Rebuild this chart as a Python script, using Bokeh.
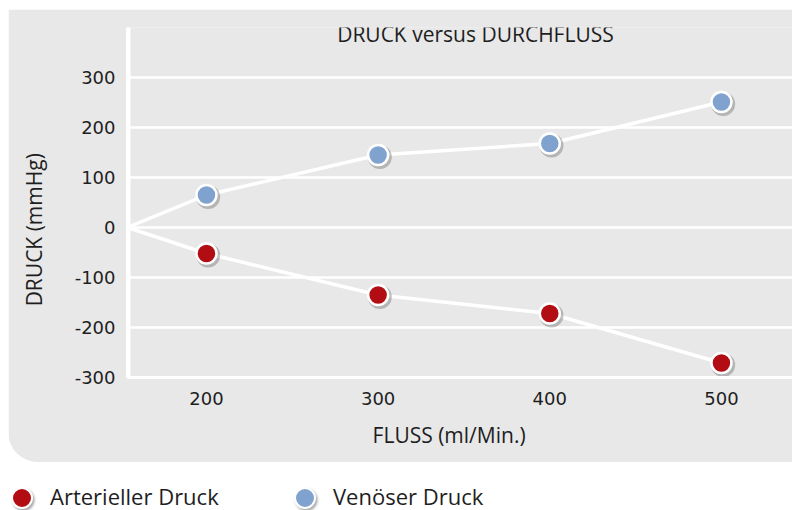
from bokeh.plotting import figure
from bokeh.models import (Range1d, FixedTicker, Label, Span, ColumnDataSource,
                          Spacer, Div)
from bokeh.layouts import column, row
from bokeh.transform import dodge
from bokeh.embed import file_html
from bokeh.resources import INLINE

# ---- data ----
FLOW = [200, 300, 400, 500]
ARTERIAL = [-52, -135, -172, -271]
VENOUS = [65, 145, 168, 251]
X_START = 154          # flow value at the y axis (origin of both lines)
Y_TICKS = [-300, -200, -100, 0, 100, 200, 300]
X_TICKS = [200, 300, 400, 500]
TITLE = "DRUCK versus DURCHFLUSS"
X_LABEL = "FLUSS (ml/Min.)"
Y_LABEL = "DRUCK (mmHg)"
SERIES = ["Arterieller Druck", "Venöser Druck"]

FONT = "Open Sans"
TICK_FONT = "DejaVu Sans"
PANEL = "#E8E8E8"
TXT = "#1E1E1E"
RED = "#B20D12"
BLUE = "#80A2CF"
COLORS = [RED, BLUE]
NBSP = "\u00a0"

p = figure(width=784, height=453, x_range=Range1d(X_START, 541.4),
           y_range=Range1d(-300, 400), output_backend="svg",
           toolbar_location=None, min_border_left=119, min_border_right=0,
           min_border_top=18, min_border_bottom=85,
           styles={"border-bottom-left-radius": "30px", "overflow": "hidden"})
p.background_fill_color = PANEL
p.border_fill_color = PANEL
p.outline_line_color = None

# axes
p.yaxis.ticker = FixedTicker(ticks=Y_TICKS)
p.xaxis.ticker = FixedTicker(ticks=X_TICKS)
p.yaxis.major_label_overrides = {t: str(t) for t in Y_TICKS}
for ax in (p.xaxis[0], p.yaxis[0]):
    ax.axis_line_color = "white"
    ax.axis_line_width = 3
    ax.major_tick_line_color = None
    ax.minor_tick_line_color = None
    ax.major_tick_out = 0
    ax.major_tick_in = 0
    ax.minor_tick_out = 0
    ax.major_label_text_font = TICK_FONT
    ax.major_label_text_font_size = "18px"
    ax.major_label_text_color = TXT
    ax.axis_label_text_font = FONT
    ax.axis_label_text_font_size = "21px"
    ax.axis_label_text_font_style = "normal"
    ax.axis_label_text_color = TXT
# trailing no-break spaces shift the centred axis titles to the reference's spot
p.xaxis.axis_label = X_LABEL + NBSP * 4
p.yaxis.axis_label = Y_LABEL + NBSP * 10
p.xaxis.major_label_standoff = 14
p.xaxis.axis_label_standoff = 13
p.yaxis.major_label_standoff = 12
p.yaxis.axis_label_standoff = 24

p.xgrid.visible = False
p.ygrid.ticker = FixedTicker(ticks=Y_TICKS)
p.ygrid.grid_line_color = "white"
p.ygrid.grid_line_width = 2.5

p.add_layout(Span(location=X_START, dimension="height", line_color="white", line_width=6))

# lines from origin
p.line([X_START] + FLOW, [0] + VENOUS, line_color="white", line_width=3.5)
p.line([X_START] + FLOW, [0] + ARTERIAL, line_color="white", line_width=3.5)

for vals, col in ((VENOUS, BLUE), (ARTERIAL, RED)):
    src = ColumnDataSource(dict(x=FLOW, y=vals))
    p.scatter(x=dodge("x", 1.0, range=p.x_range), y=dodge("y", -4, range=p.y_range),
              source=src, size=24, fill_color="#555555", fill_alpha=0.35, line_color=None)
    p.scatter(x="x", y="y", source=src, size=20, fill_color=col,
              line_color="white", line_width=2.5)

p.add_layout(Label(x=356.7, y=387, text=TITLE, text_align="center",
                   text_baseline="middle", text_font=FONT, text_font_size="21px",
                   text_color=TXT))

# ---- legend strip (HTML key below the grey panel) ----
marker_css = ("position:absolute;top:25px;box-sizing:border-box;width:22px;height:22px;"
              "border-radius:50%;border:2.5px solid #fff;"
              "box-shadow:1.5px 2px 2.5px rgba(0,0,0,0.35);")
text_css = (f"position:absolute;top:23px;margin:0;padding:0;line-height:22px;"
            f"font-family:'{FONT}';font-size:22px;color:{TXT};white-space:nowrap;")
items = ""
for name, col, mx, tx in ((SERIES[0], COLORS[0], 3, 42), (SERIES[1], COLORS[1], 286, 325)):
    items += f'<div style="{marker_css}left:{mx}px;background:{col};"></div>'
    items += f'<div style="{text_css}left:{tx}px;">{name}</div>'
legend = Div(text=('<div style="position:relative;display:block;margin:0;padding:0;'
                   f'width:784px;height:48px;">{items}</div>'),
             width=784, height=48, margin=0)

layout = row(Spacer(width=8), column(Spacer(height=9), p, legend, spacing=0), spacing=0)
open("out.html", "w").write(file_html(layout, INLINE))
